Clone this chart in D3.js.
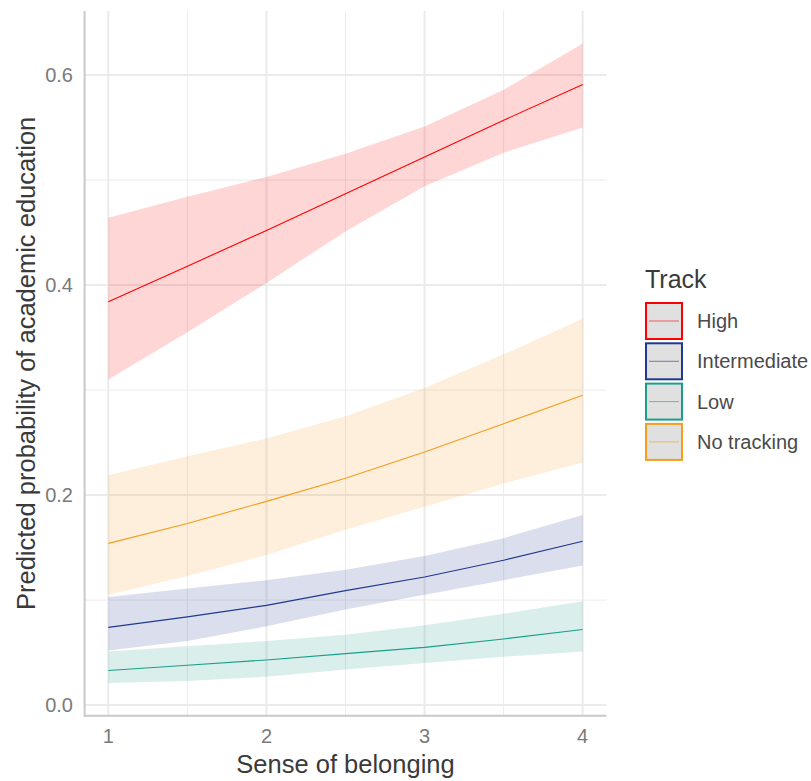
<!DOCTYPE html>
<html>
<head>
<meta charset="utf-8">
<script src="https://cdn.jsdelivr.net/npm/d3@7"></script>
<style>
  body { margin: 0; background: #fff; }
  text { font-family: "Liberation Sans", Arial, sans-serif; }
</style>
</head>
<body>
<svg id="chart" width="811" height="781"></svg>
<script>
// data
const belonging = [1, 1.5, 2, 2.5, 3, 3.5, 4]
const tracks = ['High', 'Intermediate', 'Low', 'No tracking']
const trackColors = ['#ff0000', '#21388f', '#1a9e8a', '#f59d1c']

const highFit = [0.384, 0.418, 0.452, 0.487, 0.522, 0.557, 0.591]
const highLow = [0.310, 0.355, 0.402, 0.451, 0.494, 0.526, 0.550]
const highHigh = [0.464, 0.484, 0.503, 0.525, 0.551, 0.586, 0.630]

const interFit = [0.074, 0.084, 0.095, 0.109, 0.122, 0.138, 0.156]
const interLow = [0.052, 0.061, 0.075, 0.091, 0.105, 0.119, 0.133]
const interHigh = [0.103, 0.111, 0.119, 0.129, 0.142, 0.159, 0.181]

const lowFit = [0.033, 0.038, 0.043, 0.049, 0.055, 0.063, 0.072]
const lowLow = [0.021, 0.023, 0.027, 0.034, 0.040, 0.046, 0.051]
const lowHigh = [0.051, 0.056, 0.061, 0.067, 0.076, 0.087, 0.099]

const noneFit = [0.154, 0.173, 0.194, 0.216, 0.241, 0.268, 0.295]
const noneLow = [0.105, 0.123, 0.143, 0.167, 0.189, 0.211, 0.231]
const noneHigh = [0.219, 0.237, 0.254, 0.275, 0.302, 0.334, 0.368]

const xTicks = [1, 2, 3, 4]
const yTicks = [0, 0.2, 0.4, 0.6]
const yMinor = [0.1, 0.3, 0.5]
const xMinor = [1.5, 2.5, 3.5]

const fits = [highFit, interFit, lowFit, noneFit]
const lows = [highLow, interLow, lowLow, noneLow]
const highs = [highHigh, interHigh, lowHigh, noneHigh]

let series = tracks.map((t, k) => ({
  name: t,
  color: trackColors[k],
  pts: belonging.map((b, i) => ({x: b, y: fits[k][i], lo: lows[k][i], hi: highs[k][i]}))
}))

// panel
let pLeft = 84.6, pRight = 606.4, pTop = 11, pBottom = 715.7
let x = d3.scaleLinear().domain([0.85, 4.15]).range([pLeft, pRight])
let y = d3.scaleLinear().domain([-0.0101, 0.661]).range([pBottom, pTop])

let svg = d3.select('#chart')

// grid
let grid = svg.append('g')
grid.selectAll('.ymin').data(yMinor).enter().append('line')
  .attr('x1', pLeft).attr('x2', pRight)
  .attr('y1', d => y(d)).attr('y2', d => y(d))
  .style('stroke', '#ececec').style('stroke-width', 1)
grid.selectAll('.xmin').data(xMinor).enter().append('line')
  .attr('y1', pTop).attr('y2', pBottom)
  .attr('x1', d => x(d)).attr('x2', d => x(d))
  .style('stroke', '#ececec').style('stroke-width', 1)
grid.selectAll('.ymaj').data(yTicks).enter().append('line')
  .attr('x1', pLeft).attr('x2', pRight)
  .attr('y1', d => y(d)).attr('y2', d => y(d))
  .style('stroke', '#ebebeb').style('stroke-width', 2)
grid.selectAll('.xmaj').data(xTicks).enter().append('line')
  .attr('y1', pTop).attr('y2', pBottom)
  .attr('x1', d => x(d)).attr('x2', d => x(d))
  .style('stroke', '#ebebeb').style('stroke-width', 2)

// ribbons then lines
let area = d3.area().x(d => x(d.x)).y0(d => y(d.lo)).y1(d => y(d.hi))
let line = d3.line().x(d => x(d.x)).y(d => y(d.y))

svg.append('g').selectAll('path').data(series).enter().append('path')
  .attr('d', d => area(d.pts))
  .style('fill', d => d.color).style('fill-opacity', 0.16)

svg.append('g').selectAll('path').data(series).enter().append('path')
  .attr('d', d => line(d.pts))
  .style('fill', 'none').style('stroke', d => d.color).style('stroke-width', 1.1)

// axis lines
svg.append('line').attr('x1', pLeft).attr('x2', pLeft).attr('y1', pTop).attr('y2', pBottom + 1)
  .style('stroke', '#c9c9c9').style('stroke-width', 2)
svg.append('line').attr('x1', pLeft).attr('x2', pRight).attr('y1', pBottom).attr('y2', pBottom)
  .style('stroke', '#c9c9c9').style('stroke-width', 2)

// tick labels
svg.append('g').selectAll('text').data(xTicks).enter().append('text')
  .attr('x', d => x(d)).attr('y', 743)
  .attr('text-anchor', 'middle')
  .style('font-size', '20px').style('fill', '#7a7a7a')
  .text(d => d)
svg.append('g').selectAll('text').data(yTicks).enter().append('text')
  .attr('x', 73).attr('y', d => y(d)).attr('dy', '0.36em')
  .attr('text-anchor', 'end')
  .style('font-size', '20px').style('fill', '#7a7a7a')
  .text(d => d3.format('.1f')(d))

// axis titles
svg.append('text')
  .attr('x', (pLeft + pRight) / 2).attr('y', 773)
  .attr('text-anchor', 'middle')
  .style('font-size', '25.5px').style('fill', '#3a3a3a')
  .text('Sense of belonging')
svg.append('text')
  .attr('transform', `translate(35, ${(pTop + pBottom) / 2}) rotate(-90)`)
  .attr('text-anchor', 'middle')
  .style('font-size', '25.5px').style('fill', '#3a3a3a')
  .text('Predicted probability of academic education')

// legend
let legend = svg.append('g').attr('transform', 'translate(645, 0)')
legend.append('text').attr('x', 0).attr('y', 287.5)
  .style('font-size', '25px').style('fill', '#3a3a3a')
  .text('Track')

let keys = legend.selectAll('.key').data(series).enter().append('g')
  .attr('transform', (d, i) => `translate(0, ${302 + i * 40.3})`)
keys.append('rect')
  .attr('x', 1).attr('y', 1).attr('width', 36).attr('height', 36)
  .style('fill', '#e0e0e0').style('stroke', d => d.color).style('stroke-width', 2)
keys.append('line')
  .attr('x1', 4).attr('x2', 34).attr('y1', 19).attr('y2', 19)
  .style('stroke', d => d.color).style('stroke-opacity', 0.6).style('stroke-width', 1)
keys.append('text')
  .attr('x', 52).attr('y', 19).attr('dy', '0.36em')
  .style('font-size', '20px').style('fill', '#4a4a4a')
  .text(d => d.name)
</script>
</body>
</html>
